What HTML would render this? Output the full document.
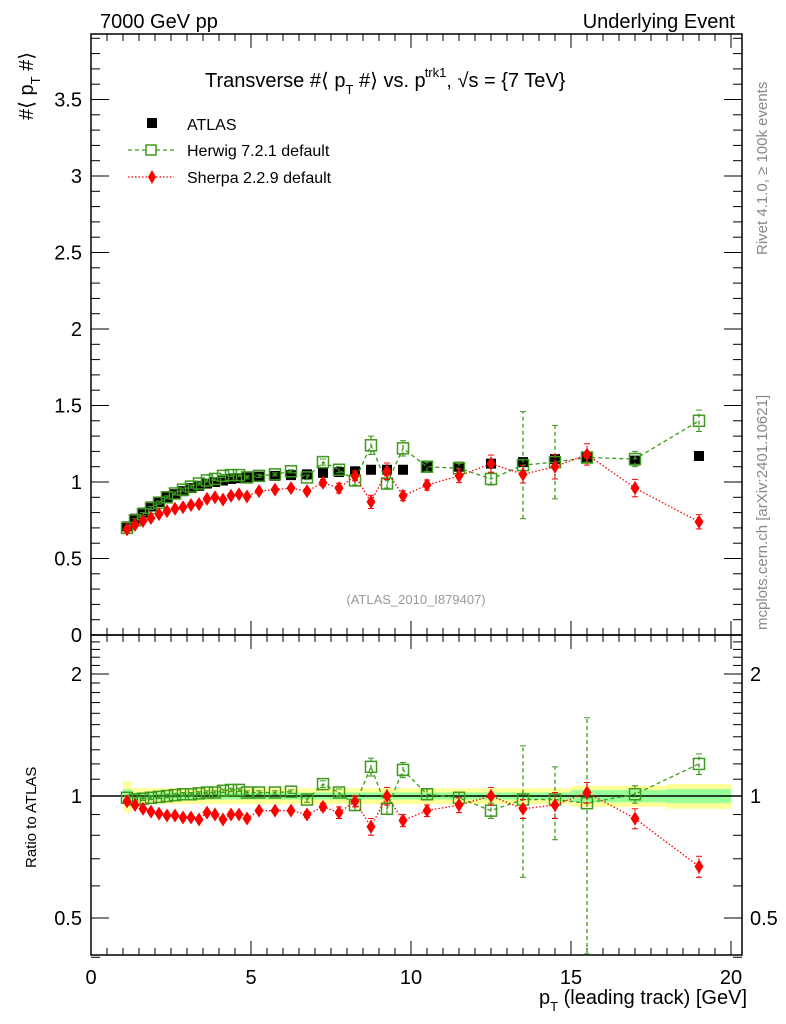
<!DOCTYPE html>
<html><head><meta charset="utf-8">
<style>
html,body{margin:0;padding:0;background:#fff;}
svg{display:block;font-family:"Liberation Sans",sans-serif;}
</style></head>
<body>
<svg id="chart" width="786" height="1024" viewBox="0 0 786 1024" xmlns="http://www.w3.org/2000/svg">
<g id="bands"></g>
<g id="frame">
<rect x="91" y="34" width="651" height="601" fill="none" stroke="#000" stroke-width="1.5"/>
<rect x="91" y="635" width="651" height="320" fill="none" stroke="#000" stroke-width="1.5"/>
</g>
<g id="ticks"></g>
<g id="series"></g>
<text x="100" y="28" font-size="20">7000 GeV pp</text>
<text x="735" y="28" font-size="20" text-anchor="end">Underlying Event</text>
<text x="205" y="87" font-size="20">Transverse #⟨ p<tspan font-size="13" dy="7">T</tspan><tspan dy="-7"> #⟩ vs. p</tspan><tspan font-size="13" dx="-1" dy="-10">trk1</tspan><tspan dy="10">, √s = {7 TeV}</tspan></text>
<g>
<rect x="147" y="118" width="10" height="10" fill="#000"/>
<text x="187" y="130" font-size="16">ATLAS</text>
<line x1="128" y1="150" x2="174" y2="150" stroke="#3d9a1c" stroke-width="1.3" stroke-dasharray="4,3"/>
<rect x="146" y="145" width="10" height="10" fill="#fff" stroke="#3d9a1c" stroke-width="1.5"/>
<text x="187" y="156" font-size="16">Herwig 7.2.1 default</text>
<line x1="128" y1="177" x2="174" y2="177" stroke="#f00" stroke-width="1.3" stroke-dasharray="1.5,2"/>
<polygon points="152,170 156,177 152,184 148,177" fill="#f00"/>
<text x="187" y="183" font-size="16">Sherpa 2.2.9 default</text>
</g>
<text x="416" y="604" font-size="13" fill="#999" text-anchor="middle">(ATLAS_2010_I879407)</text>
<text transform="translate(767,255) rotate(-90)" font-size="15" fill="#888">Rivet 4.1.0, ≥ 100k events</text>
<text transform="translate(767,630) rotate(-90)" font-size="15" fill="#888">mcplots.cern.ch [arXiv:2401.10621]</text>
<text transform="translate(33,120) rotate(-90)" font-size="20">#⟨ p<tspan font-size="13" dy="7">T</tspan><tspan dy="-7"> #⟩</tspan></text>
<text transform="translate(36,868) rotate(-90)" font-size="15">Ratio to ATLAS</text>
<text x="747" y="1004" font-size="20" text-anchor="end">p<tspan font-size="13" dy="7">T</tspan><tspan dy="-7"> (leading track) [GeV]</tspan></text>
</svg>
<script>
const xs = [1.125,1.375,1.625,1.875,2.125,2.375,2.625,2.875,3.125,3.375,3.625,3.875,4.125,4.375,4.625,4.875,5.25,5.75,6.25,6.75,7.25,7.75,8.25,8.75,9.25,9.75,10.5,11.5,12.5,13.5,14.5,15.5,17,19];
const atlas = [0.71,0.76,0.80,0.84,0.87,0.90,0.92,0.94,0.96,0.975,0.99,1.0,1.01,1.02,1.025,1.03,1.035,1.04,1.045,1.05,1.06,1.065,1.07,1.08,1.08,1.08,1.10,1.10,1.12,1.13,1.15,1.16,1.14,1.17];
const herwigMain = [0.70,0.75,0.79,0.83,0.865,0.90,0.925,0.95,0.97,0.99,1.01,1.02,1.04,1.045,1.045,1.03,1.04,1.05,1.07,1.03,1.13,1.08,1.01,1.24,0.99,1.22,1.10,1.09,1.02,1.11,1.13,1.16,1.15,1.40];
const herwigMainErr = [0.01,0.01,0.01,0.01,0.01,0.01,0.01,0.01,0.01,0.01,0.01,0.01,0.01,0.01,0.01,0.01,0.01,0.01,0.01,0.015,0.02,0.02,0.03,0.06,0.03,0.05,0.03,0.03,0.04,0.35,0.24,0.03,0.05,0.07];
const herwigRatio = [0.99,0.98,0.985,0.99,0.995,1.0,1.005,1.01,1.01,1.015,1.02,1.02,1.03,1.035,1.035,1.02,1.02,1.02,1.025,0.98,1.07,1.02,0.95,1.18,0.93,1.16,1.01,0.99,0.92,0.98,0.98,0.96,1.01,1.2];
const herwigErr = [0.01,0.01,0.01,0.01,0.01,0.01,0.01,0.01,0.01,0.01,0.01,0.01,0.01,0.01,0.01,0.01,0.01,0.01,0.01,0.015,0.02,0.02,0.03,0.06,0.03,0.05,0.03,0.03,0.04,0.35,0.2,0.6,0.05,0.07];
const sherpaMain = [0.69,0.72,0.745,0.765,0.79,0.81,0.825,0.835,0.85,0.855,0.89,0.90,0.885,0.91,0.92,0.905,0.94,0.95,0.96,0.94,0.995,0.96,1.04,0.87,1.07,0.91,0.98,1.04,1.12,1.05,1.10,1.18,0.96,0.74];
const sherpaRatio = [0.97,0.95,0.93,0.915,0.905,0.895,0.895,0.885,0.885,0.875,0.91,0.9,0.875,0.9,0.9,0.88,0.92,0.92,0.92,0.9,0.94,0.91,0.97,0.84,1.0,0.87,0.92,0.95,1.0,0.93,0.95,1.02,0.88,0.67];
const sherpaErr = [0.01,0.01,0.01,0.01,0.01,0.01,0.01,0.01,0.01,0.01,0.01,0.01,0.01,0.01,0.01,0.01,0.01,0.01,0.01,0.015,0.02,0.03,0.03,0.04,0.05,0.03,0.03,0.04,0.05,0.05,0.07,0.06,0.05,0.04];
const bandEdges = [1,1.25,15,18,20];
const bandYellow = [0.09,0.045,0.06,0.07];
const bandGreen = [0.04,0.02,0.035,0.04];
const yTicks = [0,0.5,1,1.5,2,2.5,3,3.5];
const yTickLabels = ["0","0.5","1","1.5","2","2.5","3","3.5"];
const xTicks = [0,5,10,15,20];
const rTicks = [0.5,1,2];

const NS="http://www.w3.org/2000/svg";
const X = v => 91 + v*32;
const Y = v => 635 - v*153;
const R = v => 796 - Math.log2(v)*122;
function el(tag, attrs, parent){const e=document.createElementNS(NS,tag);for(const k in attrs)e.setAttribute(k,attrs[k]);parent.appendChild(e);return e;}
const ticks=document.getElementById('ticks'), ser=document.getElementById('series'), bands=document.getElementById('bands');

for(let i=0;i<bandYellow.length;i++){
  const x1=X(bandEdges[i]), x2=X(bandEdges[i+1]);
  const y=el('rect',{x:x1,y:R(1+bandYellow[i]),width:x2-x1,height:R(1-bandYellow[i])-R(1+bandYellow[i]),fill:'#ffff99'},bands);
  
  
  const g=el('rect',{x:x1,y:R(1+bandGreen[i]),width:x2-x1,height:R(1-bandGreen[i])-R(1+bandGreen[i]),fill:'#99ff99'},bands);
  
  
}
const one=el('line',{x1:91,x2:742,y1:R(1),y2:R(1),stroke:'#000','stroke-width':1.5},bands);



for(let v=0;v<=20.4;v+=0.5){
  const maj=Math.abs(v%5)<1e-6, L=maj?14:7;
  for(const [y0,d] of [[635,-1],[34,1],[955,-1],[635,1]]){
    el('line',{x1:X(v),x2:X(v),y1:y0,y2:y0+d*L,stroke:'#000','stroke-width':1},ticks);
  }
}
xTicks.forEach(v=>{const t=el('text',{x:X(v),y:984,'font-size':20,'text-anchor':'middle'},ticks);t.textContent=v;

});
for(let i=0;i<=39;i++){const v=i/10, maj=i%5==0, L=maj?18:9;
  el('line',{x1:91,x2:91+L,y1:Y(v),y2:Y(v),stroke:'#000'},ticks);
  el('line',{x1:742,x2:742-L,y1:Y(v),y2:Y(v),stroke:'#000'},ticks);}
yTicks.forEach((v,i)=>{const t=el('text',{x:82,y:Y(v)+7,'font-size':20,'text-anchor':'end'},ticks);t.textContent=yTickLabels[i];

});
for(let i=4;i<=25;i++){const v=i/10; if(R(v)<636)continue; const maj=(i==5||i==10||i==20), L=maj?18:9;
  el('line',{x1:91,x2:91+L,y1:R(v),y2:R(v),stroke:'#000'},ticks);
  el('line',{x1:742,x2:742-L,y1:R(v),y2:R(v),stroke:'#000'},ticks);}
rTicks.forEach(v=>{for(const [x,a] of [[82,'end'],[750,'start']]){const t=el('text',{x:x,y:R(v)+7,'font-size':20,'text-anchor':a},ticks);t.textContent=v;

}});

function clampR(v){return Math.min(Math.max(R(Math.max(v,0.01)),636),954);}
function clampY(v){return Math.min(Math.max(Y(v),35),634);}
function drawPanel(vals, errs, fy, color, dash, kind, name){
  const pts=xs.map((x,i)=>X(x)+','+fy(vals[i])).join(' ');
  const pl=el('polyline',{points:pts,fill:'none',stroke:color,'stroke-width':1.3,'stroke-dasharray':dash},ser);
  
  
  xs.forEach((x,i)=>{
    const cx=X(x), cy=fy(vals[i]);
    const lo=fy(vals[i]-errs[i]), hi=fy(vals[i]+errs[i]);
    const eb=el('line',{x1:cx,x2:cx,y1:lo,y2:hi,stroke:color,'stroke-width':1.3,'stroke-dasharray':dash},ser);
    
    
    el('line',{x1:cx-3,x2:cx+3,y1:lo,y2:lo,stroke:color},ser);
    el('line',{x1:cx-3,x2:cx+3,y1:hi,y2:hi,stroke:color},ser);
    let m;
    if(kind==='sq') m=el('rect',{x:cx-5.5,y:cy-5.5,width:11,height:11,fill:'none',stroke:color,'stroke-width':1.5},ser);
    else m=el('polygon',{points:`${cx},${cy-7} ${cx+4.5},${cy} ${cx},${cy+7} ${cx-4.5},${cy}`,fill:color},ser);
    
    
  });
}
xs.forEach((x,i)=>{const r=el('rect',{x:X(x)-5,y:Y(atlas[i])-5,width:10,height:10,fill:'#000'},ser);

});
const sherpaMainErr = sherpaErr.map((e,i)=>e*atlas[i]);
drawPanel(herwigMain,herwigMainErr,clampY,'#3d9a1c','4,3','sq','herwig');
drawPanel(herwigRatio,herwigErr,clampR,'#3d9a1c','4,3','sq','herwig-ratio');
drawPanel(sherpaMain,sherpaMainErr,clampY,'#ff0000','1.5,2','di','sherpa');
drawPanel(sherpaRatio,sherpaErr,clampR,'#ff0000','1.5,2','di','sherpa-ratio');
</script>
</body></html>
